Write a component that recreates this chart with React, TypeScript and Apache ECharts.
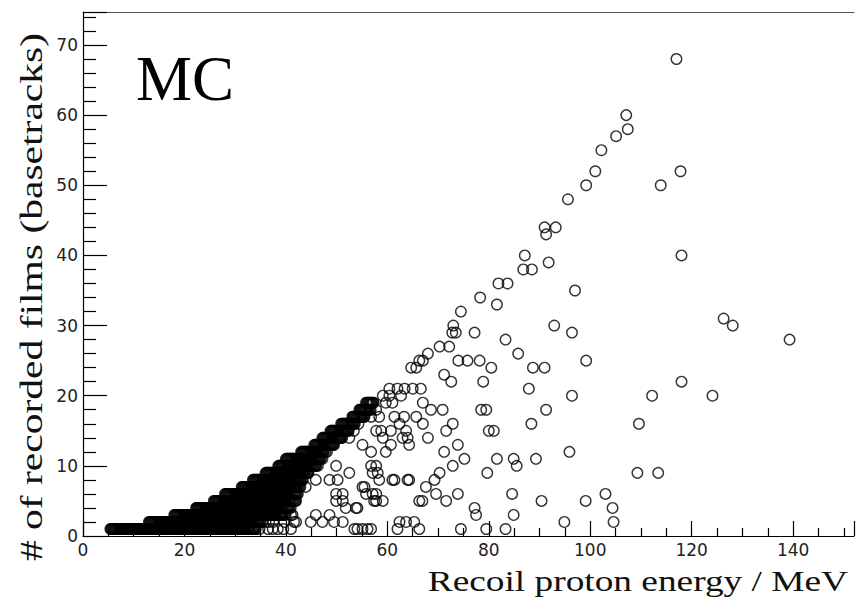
import { useEffect, useRef } from "react";
import * as echarts from "echarts";

// Axis ranges and tick spacing
const xMin = 0;
const xMax = 152;
const xInterval = 20;
const yMin = 0;
const yMax = 74.7;
const yInterval = 10;

// Recoil proton energy (MeV) of events, grouped by number of recorded films
const films1 = [5.4, 5.7, 6.0, 6.3, 6.6, 6.9, 7.2, 7.5, 7.8, 8.1, 8.4, 8.7, 9.0, 9.3, 9.6, 9.9, 10.2, 10.5, 10.8, 11.1, 11.4, 11.7, 12.0, 12.3, 12.6, 12.9, 13.2, 13.5, 13.8, 14.1, 14.4, 14.7, 15.0, 15.3, 15.6, 15.9, 16.2, 16.5, 16.8, 17.1, 17.4, 17.7, 18.0, 18.3, 18.6, 18.9, 19.2, 19.5,
  20.1, 20.7, 21.3, 21.9, 22.5, 23.1, 23.7, 24.3, 24.9, 25.5, 26.1, 26.7, 27.3, 27.9, 28.5, 29.1, 29.7, 30.3,
  31.2, 32.5, 33.6, 34.8, 36.5, 37.4, 38.4, 39.5, 41.0, 53.5, 54.1, 55.1, 56.1, 56.8, 62.0, 66.3, 74.5, 79.5, 83.3];
const fill1 = [5.55, 5.85, 6.15, 6.45, 6.75, 7.05, 7.35, 7.65, 7.95, 8.25, 8.55, 8.85, 9.15, 9.45, 9.75, 10.05, 10.35, 10.65, 10.95, 11.25, 11.55, 11.85, 12.15, 12.45, 12.75, 13.05, 13.35, 13.65, 13.95, 14.25, 14.55, 14.85, 15.15, 15.45, 15.75, 16.05, 16.35, 16.65, 16.95, 17.25, 17.55, 17.85, 18.15, 18.45, 18.75, 19.05, 19.35,
  19.8, 20.4, 21.0, 21.6, 22.2, 22.8, 23.4, 24.0, 24.6, 25.2, 25.8, 26.4, 27.0, 27.6, 28.2, 28.8, 29.4, 30.0];
const deep1 = [19.65, 19.85, 20.05, 20.25, 20.45, 20.65, 20.85, 21.05, 21.25, 21.45, 21.65, 21.85, 22.05, 22.25, 22.45, 22.65, 22.85, 23.05, 23.25, 23.45, 23.65, 23.85, 24.05, 24.25, 24.45, 24.65, 24.85, 25.05, 25.25, 25.45, 25.65, 25.85, 26.05, 26.25, 26.45, 26.65, 26.85, 27.05, 27.25, 27.45, 27.65, 27.85, 28.05, 28.25, 28.45, 28.65, 28.85, 29.05, 29.25, 29.45, 29.65, 29.85, 30.05, 30.25, 30.45, 30.65, 30.85, 31.05, 31.25, 31.45, 31.65, 31.85, 32.05, 32.25, 32.45, 32.65, 32.85, 33.05, 33.25, 33.45, 33.65, 33.85, 34.05];
const films2 = [13.0, 13.3, 13.6, 13.9, 14.2, 14.5, 14.8, 15.1, 15.4, 15.7, 16.0, 16.3, 16.6, 16.9, 17.2, 17.5, 17.8, 18.1, 18.4, 18.7, 19.0, 19.3, 19.6, 19.9, 20.2, 20.5, 20.8, 21.1, 21.4, 21.7, 22.0, 22.3, 22.6, 22.9,
  23.5, 24.1, 24.7, 25.3, 25.9, 26.5, 27.1, 27.7, 28.3, 28.9, 29.5, 30.1, 30.7,
  31.9, 33.4, 34.5, 35.4, 36.0, 36.7, 37.5, 39.7, 41.6, 42.0, 44.9, 47.2, 49.5, 51.2, 62.4, 63.7, 65.3, 94.9, 104.6];
const fill2 = [13.15, 13.45, 13.75, 14.05, 14.35, 14.65, 14.95, 15.25, 15.55, 15.85, 16.15, 16.45, 16.75, 17.05, 17.35, 17.65, 17.95, 18.25, 18.55, 18.85, 19.15, 19.45, 19.75, 20.05, 20.35, 20.65, 20.95, 21.25, 21.55, 21.85, 22.15, 22.45, 22.75,
  23.2, 23.8, 24.4, 25.0, 25.6, 26.2, 26.8, 27.4, 28.0, 28.6, 29.2, 29.8, 30.4];
const deep2 = [23.05, 23.25, 23.45, 23.65, 23.85, 24.05, 24.25, 24.45, 24.65, 24.85, 25.05, 25.25, 25.45, 25.65, 25.85, 26.05, 26.25, 26.45, 26.65, 26.85, 27.05, 27.25, 27.45, 27.65, 27.85, 28.05, 28.25, 28.45, 28.65, 28.85, 29.05, 29.25, 29.45, 29.65, 29.85, 30.05, 30.25, 30.45, 30.65, 30.85, 31.05, 31.25, 31.45, 31.65, 31.85, 32.05, 32.25, 32.45, 32.65, 32.85, 33.05, 33.25, 33.45, 33.65, 33.85, 34.05, 34.25, 34.45, 34.65, 34.85, 35.05];
const films3 = [18.0, 18.3, 18.6, 18.9, 19.2, 19.5, 19.8, 20.1, 20.4, 20.7, 21.0, 21.3, 21.6, 21.9, 22.2, 22.5, 22.8, 23.1, 23.4, 23.7, 24.0, 24.3, 24.6, 24.9, 25.2, 25.5, 25.8, 26.1, 26.4, 26.7, 27.0,
  27.6, 28.2, 28.8, 29.4, 30.0, 30.6, 31.2, 31.8, 32.4, 33.0, 33.6,
  34.6, 35.6, 36.6, 37.6, 38.8, 41.0, 41.3, 45.9, 48.6, 77.5, 84.9];
const fill3 = [18.15, 18.45, 18.75, 19.05, 19.35, 19.65, 19.95, 20.25, 20.55, 20.85, 21.15, 21.45, 21.75, 22.05, 22.35, 22.65, 22.95, 23.25, 23.55, 23.85, 24.15, 24.45, 24.75, 25.05, 25.35, 25.65, 25.95, 26.25, 26.55, 26.85,
  27.3, 27.9, 28.5, 29.1, 29.7, 30.3, 30.9, 31.5, 32.1, 32.7, 33.3];
const deep3 = [27.15, 27.35, 27.55, 27.75, 27.95, 28.15, 28.35, 28.55, 28.75, 28.95, 29.15, 29.35, 29.55, 29.75, 29.95, 30.15, 30.35, 30.55, 30.75, 30.95, 31.15, 31.35, 31.55, 31.75, 31.95, 32.15, 32.35, 32.55, 32.75, 32.95, 33.15, 33.35, 33.55, 33.75, 33.95, 34.15, 34.35, 34.55, 34.75, 34.95, 35.15, 35.35, 35.55, 35.75, 35.95, 36.15, 36.35, 36.55, 36.75, 36.95, 37.15, 37.35, 37.55, 37.75, 37.95, 38.15, 38.35, 38.55, 38.75, 38.95, 39.15, 39.35, 39.55, 39.75, 39.95];
const films4 = [22.3, 22.6, 22.9, 23.2, 23.5, 23.8, 24.1, 24.4, 24.7, 25.0, 25.3, 25.6, 25.9, 26.2, 26.5, 26.8, 27.1, 27.4, 27.7, 28.0, 28.3, 28.6, 28.9, 29.2, 29.5, 29.8, 30.1, 30.4,
  31.0, 31.6, 32.2, 32.8, 33.4, 34.0, 34.6, 35.2, 35.8,
  36.9, 38.0, 39.2, 40.4, 51.8, 53.8, 54.1, 77.2, 104.4];
const fill4 = [22.45, 22.75, 23.05, 23.35, 23.65, 23.95, 24.25, 24.55, 24.85, 25.15, 25.45, 25.75, 26.05, 26.35, 26.65, 26.95, 27.25, 27.55, 27.85, 28.15, 28.45, 28.75, 29.05, 29.35, 29.65, 29.95, 30.25,
  30.7, 31.3, 31.9, 32.5, 33.1, 33.7, 34.3, 34.9, 35.5];
const deep4 = [30.55, 30.75, 30.95, 31.15, 31.35, 31.55, 31.75, 31.95, 32.15, 32.35, 32.55, 32.75, 32.95, 33.15, 33.35, 33.55, 33.75, 33.95, 34.15, 34.35, 34.55, 34.75, 34.95, 35.15, 35.35, 35.55, 35.75, 35.95, 36.15, 36.35, 36.55, 36.75, 36.95, 37.15, 37.35, 37.55, 37.75, 37.95, 38.15, 38.35, 38.55, 38.75, 38.95, 39.15, 39.35, 39.55, 39.75, 39.95, 40.15, 40.35, 40.55, 40.75, 40.95];
const films5 = [25.8, 26.1, 26.4, 26.7, 27.0, 27.3, 27.6, 27.9, 28.2, 28.5, 28.8, 29.1, 29.4, 29.7, 30.0, 30.3, 30.6, 30.9, 31.2, 31.5, 31.8, 32.1, 32.4, 32.7, 33.0, 33.3,
  33.9, 34.5, 35.1, 35.7, 36.3, 36.9, 37.5, 38.1, 38.7,
  39.6, 40.6, 42.0, 49.9, 51.2, 57.4, 57.8, 59.1, 66.3, 66.9, 71.6, 90.4, 99.1];
const fill5 = [25.95, 26.25, 26.55, 26.85, 27.15, 27.45, 27.75, 28.05, 28.35, 28.65, 28.95, 29.25, 29.55, 29.85, 30.15, 30.45, 30.75, 31.05, 31.35, 31.65, 31.95, 32.25, 32.55, 32.85, 33.15,
  33.6, 34.2, 34.8, 35.4, 36.0, 36.6, 37.2, 37.8, 38.4];
const deep5 = [33.45, 33.65, 33.85, 34.05, 34.25, 34.45, 34.65, 34.85, 35.05, 35.25, 35.45, 35.65, 35.85, 36.05, 36.25, 36.45, 36.65, 36.85, 37.05, 37.25, 37.45, 37.65, 37.85, 38.05, 38.25, 38.45, 38.65, 38.85, 39.05, 39.25, 39.45, 39.65, 39.85, 40.05, 40.25, 40.45, 40.65, 40.85, 41.05, 41.25, 41.45, 41.65, 41.85];
const films6 = [28.0, 28.3, 28.6, 28.9, 29.2, 29.5, 29.8, 30.1, 30.4, 30.7, 31.0, 31.3, 31.6, 31.9, 32.2, 32.5, 32.8, 33.1, 33.4, 33.7, 34.0, 34.3, 34.6, 34.9, 35.2, 35.5, 35.8,
  36.4, 37.0, 37.6, 38.2, 38.8, 39.4, 40.0, 40.6,
  41.8, 49.9, 51.2, 55.8, 57.1, 57.8, 69.6, 73.9, 84.6, 103.0];
const fill6 = [28.15, 28.45, 28.75, 29.05, 29.35, 29.65, 29.95, 30.25, 30.55, 30.85, 31.15, 31.45, 31.75, 32.05, 32.35, 32.65, 32.95, 33.25, 33.55, 33.85, 34.15, 34.45, 34.75, 35.05, 35.35, 35.65,
  36.1, 36.7, 37.3, 37.9, 38.5, 39.1, 39.7, 40.3];
const deep6 = [35.95, 36.15, 36.35, 36.55, 36.75, 36.95, 37.15, 37.35, 37.55, 37.75, 37.95, 38.15, 38.35, 38.55, 38.75, 38.95, 39.15, 39.35, 39.55, 39.75, 39.95, 40.15, 40.35, 40.55, 40.75, 40.95, 41.15, 41.35, 41.55, 41.75, 41.95, 42.15, 42.35];
const films7 = [31.3, 31.6, 31.9, 32.2, 32.5, 32.8, 33.1, 33.4, 33.7, 34.0, 34.3, 34.6, 34.9, 35.2, 35.5, 35.8, 36.1, 36.4, 36.7, 37.0, 37.3, 37.6, 37.9, 38.2, 38.5,
  39.1, 39.7, 40.3, 40.9, 41.5, 42.1,
  43.9, 55.1, 55.5, 67.6];
const fill7 = [31.45, 31.75, 32.05, 32.35, 32.65, 32.95, 33.25, 33.55, 33.85, 34.15, 34.45, 34.75, 35.05, 35.35, 35.65, 35.95, 36.25, 36.55, 36.85, 37.15, 37.45, 37.75, 38.05, 38.35,
  38.8, 39.4, 40.0, 40.6, 41.2, 41.8];
const deep7 = [38.65, 38.85, 39.05, 39.25, 39.45, 39.65, 39.85, 40.05, 40.25, 40.45, 40.65, 40.85, 41.05, 41.25, 41.45, 41.65, 41.85, 42.05, 42.25, 42.45, 42.65, 42.85];
const films8 = [33.5, 33.8, 34.1, 34.4, 34.7, 35.0, 35.3, 35.6, 35.9, 36.2, 36.5, 36.8, 37.1, 37.4, 37.7, 38.0, 38.3, 38.6, 38.9, 39.2, 39.5, 39.8, 40.1, 40.4,
  41.0, 41.6, 42.2, 42.8,
  45.9, 48.6, 50.2, 58.4, 61.0, 61.4, 64.0, 64.3, 69.3];
const fill8 = [33.65, 33.95, 34.25, 34.55, 34.85, 35.15, 35.45, 35.75, 36.05, 36.35, 36.65, 36.95, 37.25, 37.55, 37.85, 38.15, 38.45, 38.75, 39.05, 39.35, 39.65, 39.95, 40.25,
  40.7, 41.3, 41.9, 42.5];
const deep8 = [40.55, 40.75, 40.95, 41.15, 41.35, 41.55, 41.75, 41.95, 42.15, 42.35, 42.55, 42.75, 42.95, 43.15, 43.35];
const films9 = [36.0, 36.3, 36.6, 36.9, 37.2, 37.5, 37.8, 38.1, 38.4, 38.7, 39.0, 39.3, 39.6, 39.9, 40.2, 40.5, 40.8, 41.1, 41.4, 41.7, 42.0, 42.3,
  42.9, 43.5,
  44.3, 52.5, 57.1, 58.1, 70.3, 79.7, 109.3, 113.4];
const fill9 = [36.15, 36.45, 36.75, 37.05, 37.35, 37.65, 37.95, 38.25, 38.55, 38.85, 39.15, 39.45, 39.75, 40.05, 40.35, 40.65, 40.95, 41.25, 41.55, 41.85, 42.15, 42.6, 43.2];
const deep9 = [42.45, 42.65, 42.85, 43.05, 43.25, 43.45, 43.65, 43.85, 44.05, 44.25, 44.45];
const films10 = [38.5, 38.8, 39.1, 39.4, 39.7, 40.0, 40.3, 40.6, 40.9, 41.2, 41.5, 41.8, 42.1, 42.4, 42.7, 43.0, 43.3, 43.6, 43.9, 44.2, 44.5,
  45.1, 45.7, 46.3,
  49.9, 56.8, 57.8, 72.9, 85.5];
const fill10 = [38.65, 38.95, 39.25, 39.55, 39.85, 40.15, 40.45, 40.75, 41.05, 41.35, 41.65, 41.95, 42.25, 42.55, 42.85, 43.15, 43.45, 43.75, 44.05, 44.35, 44.8, 45.4, 46.0];
const deep10 = [44.65, 44.95, 45.25, 45.55, 45.85];
const films11 = [40.0, 40.3, 40.6, 40.9, 41.2, 41.5, 41.8, 42.1, 42.4, 42.7, 43.0, 43.3, 43.6, 43.9, 44.2, 44.5, 44.8, 45.1, 45.4, 45.7, 46.0,
  46.6, 47.2,
  75.2, 81.6, 84.9, 89.3];
const fill11 = [40.15, 40.45, 40.75, 41.05, 41.35, 41.65, 41.95, 42.25, 42.55, 42.85, 43.15, 43.45, 43.75, 44.05, 44.35, 44.65, 44.95, 45.25, 45.55, 45.85, 46.3, 46.9];
const deep11 = [46.15, 46.45, 46.75];
const films12 = [43.0, 43.3, 43.6, 43.9, 44.2, 44.5, 44.8, 45.1, 45.4, 45.7, 46.0, 46.3, 46.6, 46.9, 47.2, 47.5,
  48.1, 56.8, 59.7, 71.2, 95.9];
const fill12 = [43.15, 43.45, 43.75, 44.05, 44.35, 44.65, 44.95, 45.25, 45.55, 45.85, 46.15, 46.45, 46.75, 47.05, 47.35, 47.8];
const films13 = [45.6, 45.9, 46.2, 46.5, 46.8, 47.1, 47.4, 47.7, 48.0, 48.3, 48.6, 48.9, 49.2, 49.5,
  55.1, 60.7, 64.3, 73.9];
const fill13 = [45.75, 46.05, 46.35, 46.65, 46.95, 47.25, 47.55, 47.85, 48.15, 48.45, 48.75, 49.05, 49.35];
const films14 = [47.2, 47.5, 47.8, 48.1, 48.4, 48.7, 49.0, 49.3, 49.6, 49.9, 50.2, 50.5, 50.8, 51.1,
  52.5, 59.1, 63.0, 64.0, 68.0];
const fill14 = [47.35, 47.65, 47.95, 48.25, 48.55, 48.85, 49.15, 49.45, 49.75, 50.05, 50.35, 50.65, 50.95];
const films15 = [48.8, 49.1, 49.4, 49.7, 50.0, 50.3, 50.6, 50.9, 51.2, 51.5, 51.8, 52.1, 52.4,
  53.4, 57.8, 58.8, 60.7, 63.7, 71.6, 80.0, 81.0];
const fill15 = [48.95, 49.25, 49.55, 49.85, 50.15, 50.45, 50.75, 51.05, 51.35, 51.65, 51.95, 52.25];
const films16 = [50.9, 51.2, 51.5, 51.8, 52.1, 52.4, 52.7, 53.0, 53.3, 53.6,
  54.3, 62.4, 67.0, 72.9, 88.4, 109.6];
const fill16 = [51.05, 51.35, 51.65, 51.95, 52.25, 52.55, 52.85, 53.15, 53.45];
const films17 = [53.1, 53.4, 53.7, 54.0, 54.3, 54.6, 54.9, 55.2, 55.5, 56.8, 58.4, 61.4, 63.3, 65.7];
const fill17 = [53.25, 53.55, 53.85, 54.15, 54.45, 54.75, 55.05, 55.35];
const films18 = [54.5, 54.8, 55.1, 55.4, 55.7, 56.0, 56.3, 56.7, 57.8, 68.6, 70.9, 78.5, 79.5, 91.3];
const fill18 = [54.65, 54.95, 55.25, 55.55, 55.85, 56.15, 56.5];
const films19 = [55.8, 56.1, 56.4, 56.7, 57.0, 57.3, 59.7, 61.0, 67.0];
const fill19 = [55.95, 56.25, 56.55, 56.85, 57.15];
const films20 = [59.1, 60.4, 62.7, 96.4, 112.2, 124.1];
const films21 = [60.4, 62.0, 63.4, 65.0, 66.6, 87.9];

// Sparse upper events: [energy, films]
const upperEvents: [number, number][] = [
  [72.6, 22], [78.9, 22], [118.0, 22], [71.2, 23],
  [64.7, 24], [65.7, 24], [80.5, 24], [88.7, 24], [91.0, 24],
  [66.3, 25], [67.0, 25], [74.0, 25], [75.8, 25], [78.2, 25], [99.2, 25],
  [68.0, 26], [85.8, 26], [70.3, 27], [72.2, 27], [83.3, 28], [139.3, 28],
  [72.8, 29], [73.5, 29], [77.2, 29], [96.4, 29],
  [73.0, 30], [92.9, 30], [128.1, 30], [126.3, 31], [74.5, 32], [81.6, 33],
  [78.3, 34], [97.0, 35], [81.9, 36], [83.7, 36], [86.8, 38], [88.5, 38],
  [91.8, 39], [87.1, 40], [118.0, 40], [91.3, 43], [91.0, 44], [93.2, 44],
  [95.6, 48], [99.2, 50], [113.9, 50], [101.0, 52], [117.8, 52], [102.2, 55],
  [105.1, 57], [107.4, 58], [107.1, 60], [117.0, 68],
];

const rows: [number, number[][]][] = [
  [1, [films1, fill1, deep1]], [2, [films2, fill2, deep2]], [3, [films3, fill3, deep3]],
  [4, [films4, fill4, deep4]], [5, [films5, fill5, deep5]], [6, [films6, fill6, deep6]],
  [7, [films7, fill7, deep7]], [8, [films8, fill8, deep8]], [9, [films9, fill9, deep9]],
  [10, [films10, fill10, deep10]], [11, [films11, fill11, deep11]], [12, [films12, fill12]],
  [13, [films13, fill13]], [14, [films14, fill14]], [15, [films15, fill15]], [16, [films16, fill16]],
  [17, [films17, fill17]], [18, [films18, fill18]], [19, [films19, fill19]],
  [20, [films20]], [21, [films21]],
];

const xTitle = "Recoil proton energy / MeV";
const yTitle = "# of recorded films (basetracks)";
const label = "MC";

export default function App() {
  const ref = useRef<HTMLDivElement>(null);

  useEffect(() => {
    if (!ref.current) return;
    const chart = echarts.init(ref.current, undefined, { renderer: "svg" });
    const data: number[][] = [];
    rows.forEach(([y, lists]) => lists.forEach((xs) => xs.forEach((x) => data.push([x, y]))));
    upperEvents.forEach((p) => data.push([p[0], p[1]]));

    const labelStyle = {
      fontFamily: "DejaVu Sans",
      fontSize: 17,
      color: "#222",
    };

    chart.setOption({
      animation: false,
      backgroundColor: "#fff",
      grid: {
        left: 83,
        right: 2,
        top: 12,
        bottom: 76,
        show: false,
      },
      xAxis: [
        {
          type: "value",
          min: xMin,
          max: xMax,
          interval: xInterval,
          axisLine: { show: true, onZero: false, lineStyle: { color: "#000", width: 1.2 } },
          axisTick: { show: true, inside: true, length: 15, lineStyle: { color: "#000", width: 1.2 } },
          minorTick: { show: true, splitNumber: 4, length: 8, lineStyle: { color: "#000", width: 1.2 } },
          splitLine: { show: false },
          minorSplitLine: { show: false },
          axisLabel: { ...labelStyle, margin: 5, showMaxLabel: false },
        },
        {
          type: "value",
          position: "top",
          min: xMin,
          max: xMax,
          interval: xInterval,
          axisLine: { show: true, onZero: false, lineStyle: { color: "#555", width: 1.2 } },
          axisTick: { show: false },
          minorTick: { show: false },
          splitLine: { show: false },
          axisLabel: { show: false },
        },
      ],
      yAxis: {
        type: "value",
        min: yMin,
        max: yMax,
        interval: yInterval,
        axisLine: { show: true, onZero: false, lineStyle: { color: "#000", width: 1.2 } },
        axisTick: { show: true, inside: true, length: 24, lineStyle: { color: "#000", width: 1.2 } },
        minorTick: { show: true, splitNumber: 5, length: 13, lineStyle: { color: "#000", width: 1.2 } },
        splitLine: { show: false },
        minorSplitLine: { show: false },
        axisLabel: { ...labelStyle, margin: 5, showMaxLabel: false },
      },
      series: [
        {
          type: "scatter",
          xAxisIndex: 0,
          data,
          symbol: "circle",
          symbolSize: 10.5,
          large: false,
          progressive: 0,
          itemStyle: { color: "rgba(0,0,0,0)", borderColor: "#000", borderWidth: 1.4 },
          emphasis: { disabled: true },
          silent: true,
        },
      ],
      graphic: [
        {
          type: "text",
          x: 848,
          y: 581,
          scaleX: 1.245,
          style: {
            text: xTitle,
            fontFamily: "Liberation Serif",
            fontSize: 30,
            fontWeight: "normal",
            fill: "#111",
            align: "right",
            verticalAlign: "middle",
          },
        },
        {
          type: "text",
          x: 31,
          y: 33,
          rotation: Math.PI / 2,
          scaleX: 1.34,
          style: {
            text: yTitle,
            fontFamily: "Liberation Serif",
            fontSize: 31,
            fontWeight: "normal",
            fill: "#111",
            align: "right",
            verticalAlign: "middle",
          },
        },
        {
          type: "text",
          x: 136,
          y: 79,
          style: {
            text: label,
            fontFamily: "Liberation Serif",
            fontSize: 63,
            fontWeight: "normal",
            fill: "#000",
            align: "left",
            verticalAlign: "middle",
          },
        },
      ],
    });
    return () => chart.dispose();
  }, []);

  return (
    <div
      ref={ref}
      style={{ position: "fixed", left: 0, top: 0, width: 856, height: 612, background: "#fff" }}
    />
  );
}
